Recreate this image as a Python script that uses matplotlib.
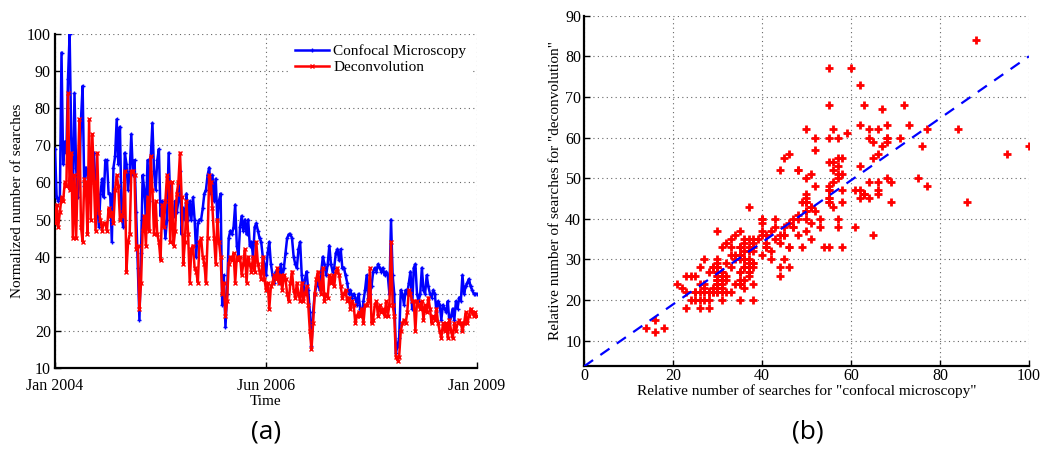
import numpy as np
import pandas as pd
import matplotlib
matplotlib.use("Agg")
import matplotlib.pyplot as plt
import matplotlib.dates as mdates

# ---------------- data (weekly, Jan 2004 - Dec 2008) ----------------
start_date = "2004-01-04"
confocal = [
    # 2004
    69, 56, 55, 56, 95, 65, 71, 68, 88, 100, 72, 55, 84, 64, 56, 60, 77, 86, 59, 64,
    63, 55, 68, 62, 68, 58, 55, 48, 57, 61, 56, 66, 66, 57, 57, 44, 64, 67, 77, 65,
    75, 51, 48, 68, 65, 58, 63, 73, 62, 66, 52, 37, 23,
    # 2005
    41, 62, 58, 51, 66, 55, 67, 76, 63, 58, 66, 69, 51, 55, 52, 45, 50, 68, 55, 52,
    51, 55, 52, 55, 63, 46, 53, 50, 57, 50, 55, 50, 56, 50, 40, 49, 50,
    50, 53, 57, 58, 62, 64, 57, 62, 55, 61, 50, 55, 57, 27, 35, 21, 30,
    # 2006
    45, 47, 46, 48, 54, 43, 40, 48, 51, 47, 50, 46, 50, 43, 44, 40, 48, 49, 47, 45,
    44, 40, 38, 35, 41, 44, 38, 35, 33, 36, 35, 33, 38, 34, 37, 41, 45, 46, 46, 45,
    40, 38, 37, 42, 44, 35, 30, 34, 36, 31,
    # 2007
    25, 16, 25, 30, 32, 34, 31, 36, 40, 38, 35, 38, 43, 38, 36, 37, 41, 42, 39, 42,
    37, 37, 35, 33, 30, 31, 29, 30, 29, 27, 30, 26, 24, 28, 31, 35, 29, 30, 32, 36,
    37, 36, 38, 37, 36, 37, 35, 36, 35, 30, 50, 35,
    # 2008
    30, 14, 16, 18, 31, 30, 27, 31, 30, 33, 36, 26, 37, 38, 30, 28, 30, 37, 31, 30,
    35, 32, 30, 29, 31, 30, 25, 28, 27, 23, 27, 26, 25, 28, 22, 24, 26, 23, 28, 26,
    29, 28, 35, 30, 32, 33, 34, 32, 31, 30, 30, 30,
]
deconvolution = [
    # 2004
    49, 54, 48, 52, 56, 55, 60, 59, 84, 58, 68, 45, 62, 45, 62, 77, 48, 44, 61, 60,
    46, 77, 50, 73, 60, 47, 68, 52, 50, 47, 49, 49, 47, 53, 51, 52, 49, 58, 62, 59,
    50, 51, 52, 63, 36, 44, 46, 63, 63, 62, 42, 43, 26,
    # 2005
    33, 47, 51, 43, 56, 47, 67, 58, 46, 55, 46, 44, 39, 54, 48, 55, 62, 60, 44, 60,
    43, 47, 57, 60, 68, 56, 38, 44, 55, 46, 33, 42, 43, 37, 36, 33, 44,
    45, 40, 38, 33, 45, 62, 60, 53, 45, 38, 50, 44, 40, 30, 33, 24, 28,
    # 2006
    38, 40, 39, 41, 33, 40, 39, 40, 35, 38, 42, 33, 40, 38, 36, 40, 36, 44, 38, 36,
    34, 40, 34, 31, 33, 26, 32, 33, 35, 34, 37, 33, 35, 31, 35, 34, 30, 28, 33, 36,
    31, 29, 33, 30, 28, 33, 28, 30, 32, 27,
    # 2007
    20, 15, 22, 30, 34, 36, 33, 30, 37, 28, 30, 29, 35, 33, 35, 32, 36, 37, 35, 32,
    29, 30, 31, 28, 29, 26, 28, 27, 22, 24, 25, 24, 26, 22, 27, 27, 28, 37, 22, 23,
    27, 28, 24, 27, 25, 26, 24, 28, 24, 27, 44, 27,
    # 2008
    24, 13, 12, 13, 20, 22, 23, 22, 25, 31, 30, 28, 28, 20, 28, 27, 26, 28, 23, 27,
    25, 29, 26, 22, 24, 23, 26, 22, 20, 18, 22, 20, 22, 18, 23, 20, 18, 22, 20, 22,
    23, 22, 20, 22, 25, 22, 24, 26, 25, 24, 25, 24,
]
x_tick_labels = ["Jan 2004", "Jun 2006", "Jan 2009"]
legend_labels = ["Confocal Microscopy", "Deconvolution"]

n = min(len(confocal), len(deconvolution))
confocal = np.array(confocal[:n], dtype=float)
deconvolution = np.array(deconvolution[:n], dtype=float)
dates = pd.date_range(start_date, periods=n, freq="7D")
xd = mdates.date2num(dates.to_pydatetime())

plt.rcParams["font.family"] = ["Liberation Serif", "DejaVu Serif"]

fig = plt.figure(figsize=(10.4, 4.5), dpi=100)

# ---------------- panel (a) ----------------
ax1 = fig.add_axes([0.0529, 0.1822, 0.4058, 0.7422])
ax1.plot(xd, confocal, color="#0000ff", lw=1.8, marker="+", ms=3.5, mew=1.0,
         label=legend_labels[0], zorder=3)
ax1.plot(xd, deconvolution, color="#ff0000", lw=1.8, marker="x", ms=2.5, mew=1.0,
         label=legend_labels[1], zorder=4)
ax1.set_xlim(xd[0], xd[-1])
ax1.set_ylim(10, 100)
ax1.set_yticks(np.arange(10, 101, 10))
ax1.set_xticks([xd[0], (xd[0] + xd[-1]) / 2, xd[-1]])
ax1.set_xticklabels(x_tick_labels)
ax1.set_xlabel("Time", fontsize=11, labelpad=1)
ax1.set_ylabel("Normalized number of searches", fontsize=11, labelpad=2)
leg = ax1.legend(loc="upper right", fontsize=11, frameon=True, fancybox=False,
                 handlelength=2.2, borderaxespad=0.4, borderpad=0.3,
                 labelspacing=0.15, handletextpad=0.3)
leg.get_frame().set_edgecolor("white")
leg.get_frame().set_alpha(1)

# ---------------- panel (b) ----------------
ax2 = fig.add_axes([0.5615, 0.1873, 0.4279, 0.7778])
ax2.plot(confocal, deconvolution, linestyle="none", marker="+", color="#ff0000",
         ms=6, mew=2.0, zorder=3)
slope, intercept = np.polyfit(confocal, deconvolution, 1)
xl = np.array([0.0, 100.0])
ax2.plot(xl, slope * xl + intercept, "--", color="#0000ff", lw=1.6, dashes=(5, 4), zorder=4)
ax2.set_xlim(0, 100)
ax2.set_ylim(3.8, 90)
ax2.set_xticks(np.arange(0, 101, 20))
ax2.set_yticks(np.arange(10, 91, 10))
ax2.set_xlabel('Relative number of searches for "confocal microscopy"', fontsize=11, labelpad=0)
ax2.set_ylabel('Relative number of searches for "deconvolution"', fontsize=11, labelpad=2)

for ax in (ax1, ax2):
    ax.grid(True, linestyle=(0, (1, 3)), color="0.4", lw=0.8)
    for s in ("top", "right"):
        ax.spines[s].set_visible(False)
    for s in ("left", "bottom"):
        ax.spines[s].set_linewidth(1.6)
    ax.tick_params(direction="in", length=4, width=1, labelsize=11.5, pad=2)
    ax.set_axisbelow(True)
ax1.tick_params(axis="x", pad=7)
ax1.tick_params(axis="y", pad=3)

fig.text(0.256, 0.025, "(a)", fontsize=19, family=["Open Sans", "DejaVu Sans"], ha="center")
fig.text(0.777, 0.025, "(b)", fontsize=19, family=["Open Sans", "DejaVu Sans"], ha="center")

fig.savefig("out.png", dpi=100)
